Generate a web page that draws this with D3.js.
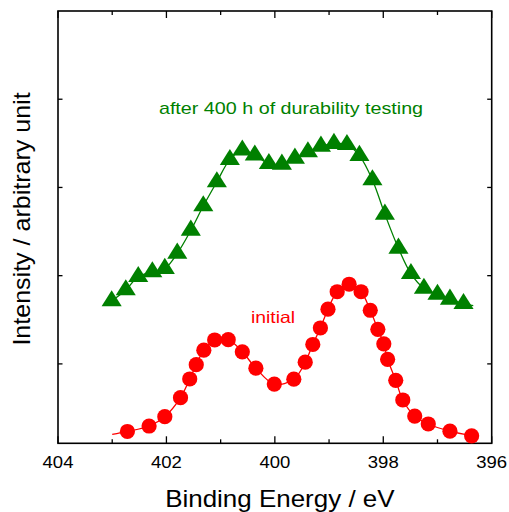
<!DOCTYPE html>
<html>
<head>
<meta charset="utf-8">
<script src="https://cdn.jsdelivr.net/npm/d3@7"></script>
<style>
  html, body { margin: 0; padding: 0; background: #fff; }
  svg { display: block; font-family: "Liberation Sans", Arial, sans-serif; }
</style>
</head>
<body>
<svg id="chart" width="509" height="512"></svg>
<script>
// N 1s spectra: binding energy (eV) and intensity (arbitrary units)
const initialEnergy = [402.72, 402.32, 402.03, 401.74, 401.57, 401.45, 401.31, 401.11, 400.86, 400.60,
  400.35, 400.01, 399.65, 399.44, 399.30, 399.16, 399.02, 398.85, 398.63, 398.41,
  398.24, 398.10, 397.99, 397.92, 397.77, 397.64, 397.42, 397.17, 396.77, 396.37];
const initialIntensity = [0.234, 0.296, 0.402, 0.617, 0.829, 0.991, 1.155, 1.271, 1.274, 1.137,
  0.951, 0.771, 0.827, 1.019, 1.220, 1.407, 1.620, 1.818, 1.903, 1.818,
  1.608, 1.392, 1.228, 1.052, 0.814, 0.591, 0.409, 0.319, 0.237, 0.185];
// the fitted trace runs a little past the first measured point
const initialTraceStart = [403.0, 0.20];

const agedEnergy = [403.01, 402.75, 402.52, 402.26, 402.03, 401.80, 401.55, 401.32, 401.07, 400.83,
  400.60, 400.37, 400.11, 399.87, 399.63, 399.39, 399.15, 398.91, 398.67, 398.44,
  398.20, 397.97, 397.72, 397.49, 397.25, 397.00, 396.77, 396.52];
const agedIntensity = [1.714, 1.838, 1.989, 2.042, 2.080, 2.253, 2.514, 2.790, 3.063, 3.315,
  3.423, 3.366, 3.270, 3.262, 3.330, 3.403, 3.466, 3.497, 3.485, 3.361,
  3.085, 2.695, 2.310, 2.023, 1.856, 1.788, 1.732, 1.683];
// the fitted trace runs a little past the last measured point
const agedTraceEnd = [396.34, 1.66];

const xMajorTicks = [404, 402, 400, 398, 396];
const xMinorTicks = [403, 401, 399, 397];
const yTicks = [1, 2, 3, 4];

const labels = {
  x: "Binding Energy / eV",
  y: "Intensity / arbitrary unit",
  aged: "after 400 h of durability testing",
  initial: "initial"
};

const RED = "#ff0000";
const GREEN = "#008000";

const svg = d3.select("#chart");
const m = { left: 58, right: 491.7, top: 11, bottom: 443.3 };

const x = d3.scaleLinear().domain([404, 396]).range([m.left, m.right]);
const y = d3.scaleLinear().domain([0.1, 5]).range([m.bottom, m.top]);

// Frame with inward ticks on all four sides
const axisLayer = svg.append("g").attr("stroke", "#000").attr("fill", "none");
axisLayer.append("rect")
  .attr("x", m.left).attr("y", m.top)
  .attr("width", m.right - m.left).attr("height", m.bottom - m.top)
  .attr("stroke-width", 1.6);

const xTickSet = xMajorTicks.map(v => ({ v, len: 7 })).concat(xMinorTicks.map(v => ({ v, len: 4 })));
xTickSet.forEach(t => {
  axisLayer.append("line").attr("x1", x(t.v)).attr("x2", x(t.v))
    .attr("y1", m.bottom).attr("y2", m.bottom - t.len).attr("stroke-width", 1.3);
  axisLayer.append("line").attr("x1", x(t.v)).attr("x2", x(t.v))
    .attr("y1", m.top).attr("y2", m.top + t.len).attr("stroke-width", 1.3);
});
yTicks.forEach(v => {
  axisLayer.append("line").attr("x1", m.left).attr("x2", m.left + 4.5)
    .attr("y1", y(v)).attr("y2", y(v)).attr("stroke-width", 1.3);
  axisLayer.append("line").attr("x1", m.right).attr("x2", m.right - 4.5)
    .attr("y1", y(v)).attr("y2", y(v)).attr("stroke-width", 1.3);
});

// Horizontally widened text helper
function wideText(g, str, cx, cy, size, sx, color, anchor) {
  return g.append("text")
    .attr("transform", `translate(${cx},${cy}) scale(${sx},1)`)
    .attr("text-anchor", anchor || "middle")
    .attr("font-size", size)
    .attr("fill", color || "#000")
    .text(str);
}

const textLayer = svg.append("g");
xMajorTicks.forEach(v => wideText(textLayer, d3.format("d")(v), x(v), 468.3, 16.4, 1.13));
wideText(textLayer, labels.x, (m.left + m.right) / 2 + 5, 506.7, 23.3, 1.115);

textLayer.append("text")
  .attr("transform", `translate(29.5,219) rotate(-90) scale(1.075,1)`)
  .attr("text-anchor", "middle")
  .attr("font-size", 23.3)
  .attr("fill", "#000")
  .text(labels.y);

// Traces
const line = d3.line().x(d => x(d[0])).y(d => y(d[1])).curve(d3.curveCatmullRom.alpha(0.5));

const initialPts = initialEnergy.map((e, i) => [e, initialIntensity[i]]);
const agedPts = agedEnergy.map((e, i) => [e, agedIntensity[i]]);

svg.append("path")
  .datum([initialTraceStart].concat(initialPts))
  .attr("d", line).attr("fill", "none").attr("stroke", RED).attr("stroke-width", 1.3);
svg.append("path")
  .datum(agedPts.concat([agedTraceEnd]))
  .attr("d", line).attr("fill", "none").attr("stroke", GREEN).attr("stroke-width", 1.3);

// Markers
svg.append("g").selectAll("circle").data(initialPts).join("circle")
  .attr("cx", d => x(d[0])).attr("cy", d => y(d[1])).attr("r", 7.6)
  .attr("fill", RED);

const tri = d3.symbol().type(d3.symbolTriangle).size(150);
svg.append("g").selectAll("path").data(agedPts).join("path")
  .attr("transform", d => `translate(${x(d[0])},${y(d[1])}) scale(1.08,1)`)
  .attr("d", tri).attr("fill", GREEN);

// Annotations
wideText(textLayer.raise(), labels.aged, 291, 114, 17, 1.16, GREEN);
wideText(textLayer, labels.initial, 273, 322.7, 16.3, 1.19, RED);
</script>
</body>
</html>
